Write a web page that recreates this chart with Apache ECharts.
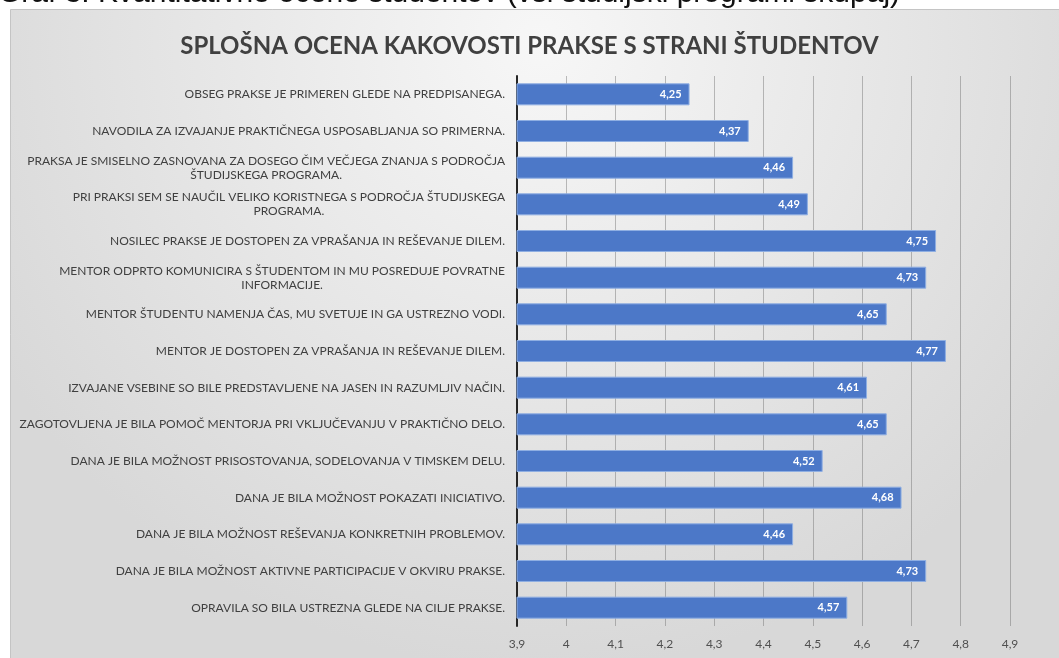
<!DOCTYPE html>
<html>
<head>
<meta charset="utf-8">
<script src="https://cdn.jsdelivr.net/npm/echarts@6/dist/echarts.min.js"></script>
<style>
  html, body { margin: 0; padding: 0; background: #fff; }
  #main { width: 1059px; height: 658px; }
</style>
</head>
<body>
<div id="main"></div>
<script>
// vprašanja (od zgoraj navzdol)
var categories = [
  'OBSEG PRAKSE JE PRIMEREN GLEDE NA PREDPISANEGA.',
  'NAVODILA ZA IZVAJANJE PRAKTIČNEGA USPOSABLJANJA SO PRIMERNA.',
  'PRAKSA JE SMISELNO ZASNOVANA ZA DOSEGO ČIM VEČJEGA ZNANJA S PODROČJA\nŠTUDIJSKEGA PROGRAMA.',
  'PRI PRAKSI SEM SE NAUČIL VELIKO KORISTNEGA S PODROČJA ŠTUDIJSKEGA\nPROGRAMA.',
  'NOSILEC PRAKSE JE DOSTOPEN ZA VPRAŠANJA IN REŠEVANJE DILEM.',
  'MENTOR ODPRTO KOMUNICIRA S ŠTUDENTOM IN MU POSREDUJE POVRATNE\nINFORMACIJE.',
  'MENTOR ŠTUDENTU NAMENJA ČAS, MU SVETUJE IN GA USTREZNO VODI.',
  'MENTOR JE DOSTOPEN ZA VPRAŠANJA IN REŠEVANJE DILEM.',
  'IZVAJANE VSEBINE SO BILE PREDSTAVLJENE NA JASEN IN RAZUMLJIV NAČIN.',
  'ZAGOTOVLJENA JE BILA POMOČ MENTORJA PRI VKLJUČEVANJU V PRAKTIČNO DELO.',
  'DANA JE BILA MOŽNOST PRISOSTOVANJA, SODELOVANJA V TIMSKEM DELU.',
  'DANA JE BILA MOŽNOST POKAZATI INICIATIVO.',
  'DANA JE BILA MOŽNOST REŠEVANJA KONKRETNIH PROBLEMOV.',
  'DANA JE BILA MOŽNOST AKTIVNE PARTICIPACIJE V OKVIRU PRAKSE.',
  'OPRAVILA SO BILA USTREZNA GLEDE NA CILJE PRAKSE.'
];

var ocene = [4.25, 4.37, 4.46, 4.49, 4.75, 4.73, 4.65, 4.77, 4.61, 4.65, 4.52, 4.68, 4.46, 4.73, 4.57];

var xMin = 3.9;
var xMax = 4.9;
var xStep = 0.1;

var title = 'SPLOŠNA OCENA KAKOVOSTI PRAKSE S STRANI ŠTUDENTOV';
var caption = 'Graf 3: Kvantitativne ocene študentov (vsi študijski programi skupaj)';

function decimalComma(v, digits) {
  var s = (+v).toFixed(digits).replace('.', ',');
  if (digits === 1 && s.slice(-2) === ',0') s = s.slice(0, -2);
  return s;
}

var chart = echarts.init(document.getElementById('main'));

chart.setOption({
  backgroundColor: '#ffffff',
  animation: false,
  graphic: {
    elements: [
      {
        type: 'text',
        z: -20,
        left: -2,
        top: -21,
        style: {
          text: caption,
          font: '30px "Liberation Sans", Arial, sans-serif',
          fill: '#111111'
        }
      },
      {
        type: 'rect',
        z: -10,
        shape: { x: 10.5, y: 9.5, width: 1060, height: 660 },
        style: {
          fill: {
            type: 'radial', x: 0.5, y: 0.05, r: 0.95,
            colorStops: [
              { offset: 0, color: '#f7f7f7' },
              { offset: 1, color: '#d8d8d8' }
            ]
          },
          stroke: '#c4c4c4',
          lineWidth: 1
        }
      }
    ]
  },
  title: {
    text: title,
    left: 'center',
    top: 29,
    textStyle: {
      fontFamily: 'Lato, "Open Sans", sans-serif',
      fontSize: 24,
      fontWeight: 'bold',
      color: '#404040'
    }
  },
  grid: {
    left: 517,
    right: 49,
    top: 76,
    bottom: 32
  },
  xAxis: {
    type: 'value',
    min: xMin,
    max: xMax,
    interval: xStep,
    axisLine: { show: false },
    axisTick: { show: false },
    splitLine: {
      show: true,
      lineStyle: { color: 'rgba(110,110,110,0.45)', width: 1 }
    },
    axisLabel: {
      margin: 12,
      fontFamily: 'Lato, sans-serif',
      fontSize: 12,
      color: '#505050',
      formatter: function (v) { return decimalComma(v, 1); }
    }
  },
  yAxis: {
    type: 'category',
    inverse: true,
    data: categories,
    axisLine: { show: true, lineStyle: { color: '#262626', width: 2 } },
    axisTick: { show: false },
    axisLabel: {
      margin: 12,
      fontFamily: 'Lato, sans-serif',
      fontSize: 12,
      color: '#404040',
      lineHeight: 14,
      formatter: function (v) {
        return v.split('\n').map(function (line) { return '{c|' + line + '}'; }).join('\n');
      },
      rich: {
        c: {
          align: 'center',
          fontFamily: 'Lato, sans-serif',
          fontSize: 12,
          color: '#404040',
          lineHeight: 14
        }
      }
    }
  },
  series: [
    {
      type: 'bar',
      data: ocene,
      barWidth: 22,
      itemStyle: {
        color: '#4c78c8',
        borderColor: '#8eaee2',
        borderWidth: 1
      },
      label: {
        show: true,
        position: 'insideRight',
        distance: 8,
        color: '#ffffff',
        fontFamily: 'Lato, sans-serif',
        fontWeight: 'bold',
        fontSize: 11,
        formatter: function (p) { return decimalComma(p.value, 2); }
      }
    }
  ]
});
</script>
</body>
</html>
